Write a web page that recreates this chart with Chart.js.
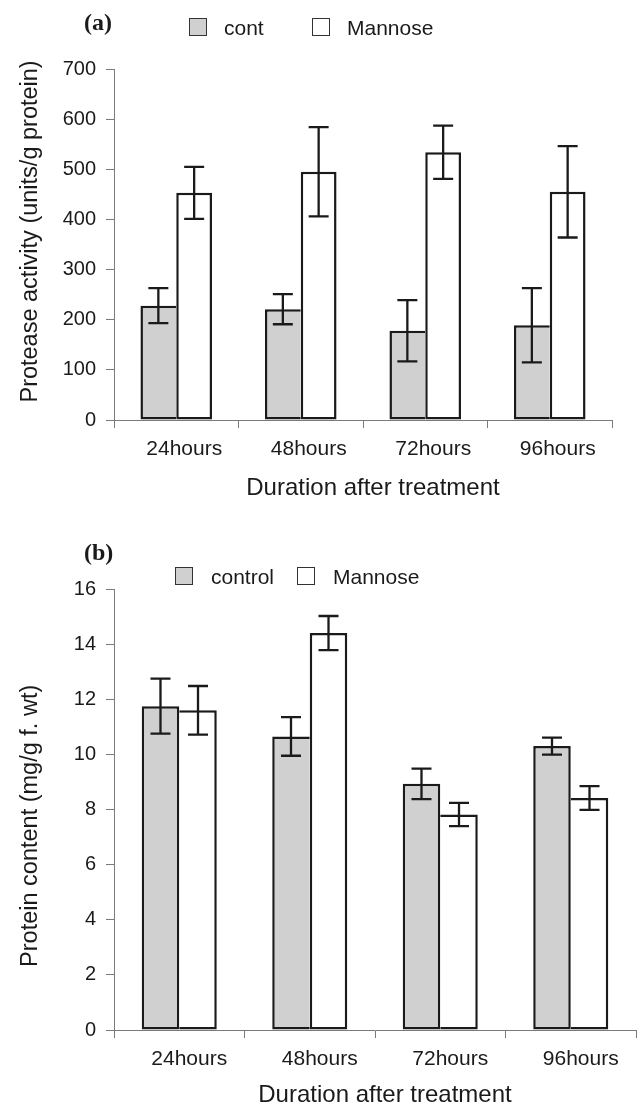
<!DOCTYPE html>
<html>
<head>
<meta charset="utf-8">
<script src="https://cdn.jsdelivr.net/npm/chart.js@4.4.1/dist/chart.umd.min.js"></script>
<style>
  body { margin: 0; background: #fff; }
  #wrap { position: relative; width: 638px; height: 1110px; font-family: "Liberation Sans", Arial, sans-serif; color: #1a1a1a; }
  canvas { position: absolute; left: 0; }
  .tag { position: absolute; font-family: "Liberation Serif", "Times New Roman", serif; font-weight: bold; font-size: 24px; line-height: 24px; }
  .leg { position: absolute; font-size: 21px; line-height: 20px; white-space: nowrap; }
  .box { position: absolute; width: 16px; height: 16px; border: 1.5px solid #333; }
</style>
</head>
<body>
<div id="wrap">
  <canvas id="chartA" width="638" height="510" style="top:0"></canvas>
  <canvas id="chartB" width="638" height="600" style="top:510px"></canvas>

  <div class="tag" style="left:84px; top:10px">(a)</div>
  <div class="box" id="boxA1" style="left:189px; top:18px"></div>
  <div class="leg" style="left:224px; top:18px">cont</div>
  <div class="box" id="boxA2" style="left:312px; top:18px"></div>
  <div class="leg" style="left:347px; top:18px">Mannose</div>

  <div class="tag" style="left:84px; top:540px">(b)</div>
  <div class="box" id="boxB1" style="left:175px; top:567px"></div>
  <div class="leg" style="left:211px; top:567px">control</div>
  <div class="box" id="boxB2" style="left:297px; top:567px"></div>
  <div class="leg" style="left:333px; top:567px">Mannose</div>
</div>
<script>
// data
const hours = ['24hours', '48hours', '72hours', '96hours'];

const proteaseCont = [228, 221, 178, 189];
const proteaseContErr = [35, 30, 61, 74];
const proteaseMannose = [453, 495, 534, 455];
const proteaseMannoseErr = [52, 89, 53, 91];
const proteaseMax = 700;
const proteaseStep = 100;

const proteinControl = [11.75, 10.65, 8.93, 10.3];
const proteinControlErr = [1.0, 0.7, 0.55, 0.31];
const proteinMannose = [11.6, 14.4, 7.82, 8.42];
const proteinMannoseErr = [0.88, 0.62, 0.42, 0.43];
const proteinMax = 16;
const proteinStep = 2;

const greyFill = '#d0d0d0';
const ink = '#1a1a1a';
const axisGrey = '#7a7a7a';

Chart.defaults.font.family = '"Liberation Sans", Arial, sans-serif';
Chart.defaults.color = ink;

['boxA1', 'boxB1'].forEach(id => document.getElementById(id).style.background = greyFill);
['boxA2', 'boxB2'].forEach(id => document.getElementById(id).style.background = '#fff');

// the shared edge between the two bars belongs to the taller one
function borders(own, other, first) {
    return ctx => {
        const taller = own[ctx.dataIndex] >= other[ctx.dataIndex];
        if (first) return { left: 2.5, top: 2.5, bottom: 2.5, right: taller ? 2.5 : 0 };
        return { left: taller ? 2.5 : 0, top: 2.5, bottom: 2.5, right: 2.5 };
    };
}

const errorBars = {
    id: 'errorBars',
    afterDatasetsDraw(chart) {
        const ctx = chart.ctx;
        const y = chart.scales.y;
        ctx.save();
        ctx.strokeStyle = ink;
        ctx.lineWidth = 2.3;
        chart.data.datasets.forEach((ds, i) => {
            chart.getDatasetMeta(i).data.forEach((bar, j) => {
                const v = ds.data[j], e = ds.errors[j];
                const top = y.getPixelForValue(v + e);
                const bot = y.getPixelForValue(v - e);
                ctx.beginPath();
                ctx.moveTo(bar.x, top); ctx.lineTo(bar.x, bot);
                ctx.moveTo(bar.x - 10, top); ctx.lineTo(bar.x + 10, top);
                ctx.moveTo(bar.x - 10, bot); ctx.lineTo(bar.x + 10, bot);
                ctx.stroke();
            });
        });
        ctx.restore();
    }
};

function makeChart(id, opts) {
    return new Chart(document.getElementById(id), {
        type: 'bar',
        data: {
            labels: hours,
            datasets: [{
                label: opts.names[0],
                data: opts.a,
                errors: opts.aErr,
                backgroundColor: greyFill,
                borderColor: ink,
                borderWidth: borders(opts.a, opts.b, true),
                borderSkipped: false,
                categoryPercentage: 0.575,
                barPercentage: 1
            }, {
                label: opts.names[1],
                data: opts.b,
                errors: opts.bErr,
                backgroundColor: '#ffffff',
                borderColor: ink,
                borderWidth: borders(opts.b, opts.a, false),
                borderSkipped: false,
                categoryPercentage: 0.575,
                barPercentage: 1
            }]
        },
        options: {
            responsive: false,
            animation: false,
            events: [],
            layout: { padding: opts.padding },
            plugins: { legend: { display: false }, tooltip: { enabled: false } },
            scales: {
                x: {
                    offset: true,
                    grid: { drawOnChartArea: false, offset: true, tickLength: 8, color: axisGrey },
                    border: { color: axisGrey, width: 1 },
                    ticks: { font: { size: 21 }, padding: 9, labelOffset: opts.labelOffset, color: ink },
                    // leading spaces nudge the centred title to the right like the original
                    title: { display: true, text: '   Duration after treatment', font: { size: 24 }, color: ink,
                             padding: { top: 0, bottom: opts.titlePadBottom } },
                    afterFit: s => { s.height = opts.xHeight; }
                },
                y: {
                    min: 0,
                    max: opts.max,
                    grid: { drawOnChartArea: false, tickLength: 8, color: axisGrey },
                    border: { color: axisGrey, width: 1 },
                    ticks: { stepSize: opts.step, font: { size: 20 }, padding: 10, color: ink },
                    title: { display: true, text: opts.yTitle, font: { size: 23.5 }, color: ink,
                             padding: { top: 16, bottom: 0 } },
                    afterFit: s => { s.width = 114; }
                }
            }
        },
        plugins: [errorBars]
    });
}

makeChart('chartA', {
    names: ['cont', 'Mannose'],
    a: proteaseCont, aErr: proteaseContErr,
    b: proteaseMannose, bErr: proteaseMannoseErr,
    max: proteaseMax, step: proteaseStep,
    yTitle: '    Protease activity (units/g protein)',
    padding: { top: 69, right: 26, bottom: 0, left: 0 },
    xHeight: 90, titlePadBottom: 7, labelOffset: 8
});

makeChart('chartB', {
    names: ['control', 'Mannose'],
    a: proteinControl, aErr: proteinControlErr,
    b: proteinMannose, bErr: proteinMannoseErr,
    max: proteinMax, step: proteinStep,
    yTitle: 'Protein content (mg/g f. wt)     ',
    padding: { top: 79, right: 2, bottom: 0, left: 0 },
    xHeight: 80, titlePadBottom: 0, labelOffset: 10
});
</script>
</body>
</html>
